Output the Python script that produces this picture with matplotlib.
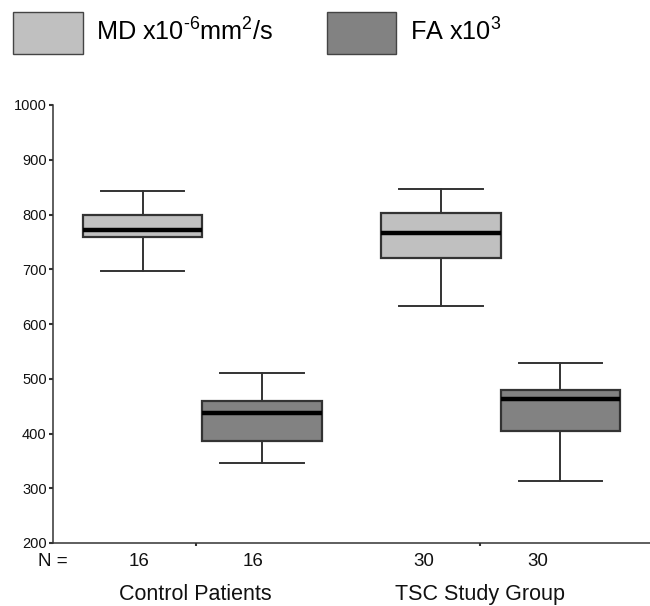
import matplotlib
matplotlib.use("Agg")
import matplotlib.pyplot as plt
from matplotlib.patches import Patch

plt.rcParams["font.family"] = ["Liberation Sans", "DejaVu Sans"]
plt.rcParams["mathtext.fontset"] = "custom"
plt.rcParams["mathtext.rm"] = "Liberation Sans"
plt.rcParams["mathtext.it"] = "Liberation Sans:italic"

# data
groups = ["Control Patients", "TSC Study Group"]
n_subjects = [16, 30]

md_whislo = [697, 632]
md_q1 = [759, 720]
md_med = [772, 767]
md_q3 = [800, 803]
md_whishi = [843, 846]

fa_whislo = [347, 314]
fa_q1 = [387, 405]
fa_med = [438, 463]
fa_q3 = [460, 480]
fa_whishi = [511, 529]

md_color = "#c0c0c0"
fa_color = "#828282"
edge = "#333333"


def make_stats(lo, q1, med, q3, hi):
    return [{"whislo": a, "q1": b, "med": c, "q3": d, "whishi": e, "fliers": []}
            for a, b, c, d, e in zip(lo, q1, med, q3, hi)]


def label_x(x):
    # the label row in the original sits slightly left of the boxes
    return 0.954 * x + 0.024


fig = plt.figure(figsize=(6.5, 6.06), dpi=100)
ax = fig.add_axes([53 / 650, 1 - 543 / 606, 1 - 53 / 650, 438 / 606])

centers = [1, 2]
md_pos = [c - 0.2 for c in centers]
fa_pos = [c + 0.2 for c in centers]

for stats, pos, col in [(make_stats(md_whislo, md_q1, md_med, md_q3, md_whishi), md_pos, md_color),
                        (make_stats(fa_whislo, fa_q1, fa_med, fa_q3, fa_whishi), fa_pos, fa_color)]:
    ax.bxp(stats, positions=pos, widths=0.4, capwidths=0.28, showfliers=False,
           patch_artist=True,
           boxprops=dict(facecolor=col, edgecolor=edge, linewidth=1.6),
           medianprops=dict(color="black", linewidth=3.2, solid_capstyle="butt"),
           whiskerprops=dict(color=edge, linewidth=1.4),
           capprops=dict(color=edge, linewidth=1.4))

ax.set_xlim(0.5, 2.5)
ax.set_ylim(200, 1000)
ax.set_yticks(range(200, 1001, 100))
ax.set_xticks([label_x(c) for c in centers])
ax.set_xticklabels([])

for s in ["top", "right"]:
    ax.spines[s].set_visible(False)
for s in ["left", "bottom"]:
    ax.spines[s].set_color("#333333")
    ax.spines[s].set_linewidth(1.1)
ax.tick_params(axis="y", length=3, width=1.5, pad=1.5, labelsize=10.5, colors="#333333",
               labelcolor="#111111")
ax.tick_params(axis="x", length=2, width=1.5, colors="#333333")

# N row and group names under the axis
trans = ax.get_xaxis_transform()
fig.text(68 / 650, 1 - 561 / 606, "N =", ha="right", va="center",
         fontsize=13.5, color="#111111")
for i in range(len(groups)):
    for p in (md_pos[i], fa_pos[i]):
        ax.text(label_x(p), -0.043, str(n_subjects[i]), transform=trans, ha="center",
                va="center", fontsize=13.5, color="#111111")
    ax.text(label_x(centers[i]), -0.118, groups[i], transform=trans, ha="center",
            va="center", fontsize=15.5, color="#111111")

handles = [Patch(facecolor=md_color, edgecolor="#444444", linewidth=1.0),
           Patch(facecolor=fa_color, edgecolor="#444444", linewidth=1.0)]
fig.legend(handles, ["MD x10$^{\u2010\\mathrm{6}}$mm$^{2}$/s", r"FA x10$^{3}$"],
           loc="upper left", bbox_to_anchor=(13 / 650, 1 - 12 / 606), ncol=2,
           frameon=False, fontsize=18.2, handlelength=2.75, handleheight=2.15,
           handletextpad=0.55, columnspacing=2.1, borderpad=0, borderaxespad=0)

fig.savefig("out.png", dpi=100)
